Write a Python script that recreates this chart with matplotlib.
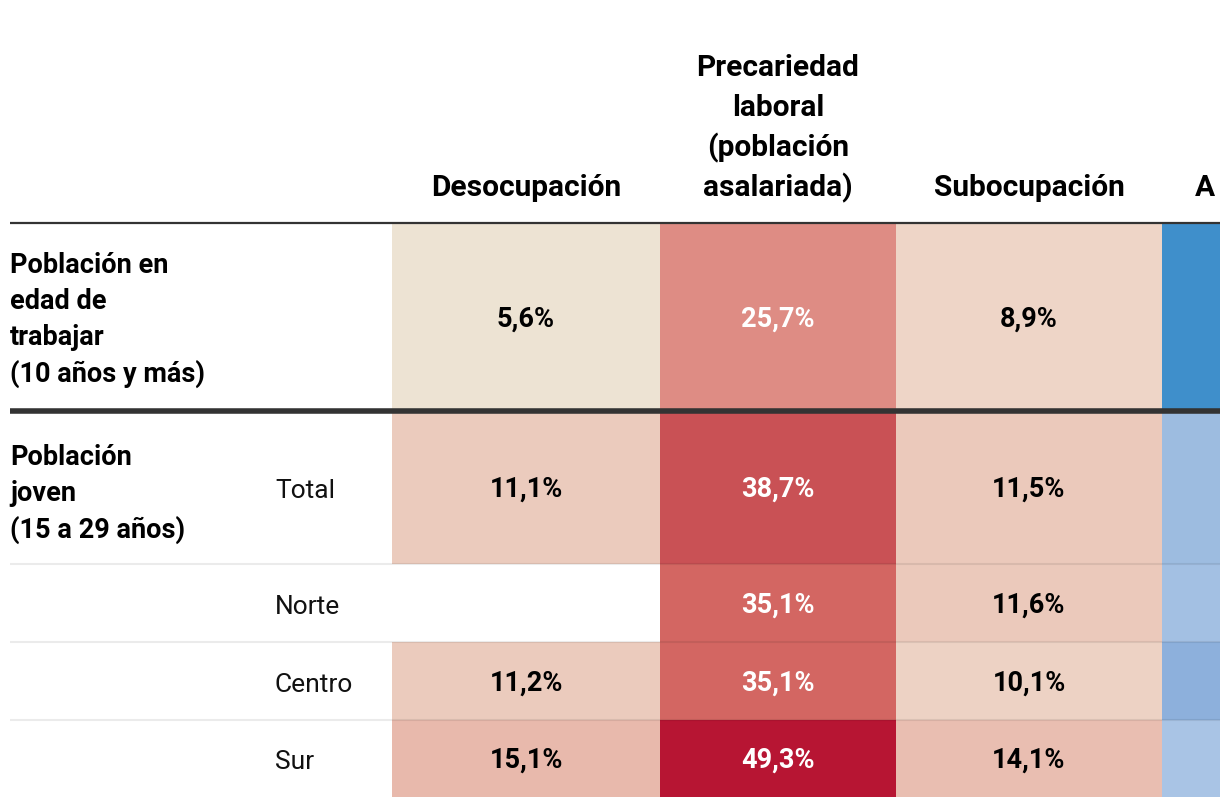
import numpy as np
import matplotlib
matplotlib.use("Agg")
import matplotlib.pyplot as plt
from matplotlib.colors import LinearSegmentedColormap

# ---------------- data ----------------
columns = ["Desocupación", "Precariedad\nlaboral\n(población\nasalariada)", "Subocupación", "A"]
row_groups = ["Población en\nedad de\ntrabajar\n(10 años y más)", "Población\njoven\n(15 a 29 años)", "", "", ""]
row_sub = ["", "Total", "Norte", "Centro", "Sur"]

desocupacion = [5.6, 11.1, np.nan, 11.2, 15.1]
precariedad = [25.7, 38.7, 35.1, 35.1, 49.3]
subocupacion = [8.9, 11.5, 11.6, 10.1, 14.1]
# fourth column is cut off in the picture; values estimated from shading only
cuarta = [48.0, 22.0, 20.5, 25.0, 19.0]

# ---------------- styles / layout ----------------
W, H = 1220, 808
fig = plt.figure(figsize=(W / 100, H / 100), dpi=100)
ax = fig.add_axes([0, 0, 1, 1])
ax.set_xlim(0, W)
ax.set_ylim(H, 0)
ax.axis("off")

FONT = ["Roboto", "DejaVu Sans"]

col_edges = [392, 660, 896, 1162, 1430]
row_edges = [224, 411, 564, 642, 720, 797]

red_nodes = [(5.6, "#EDE3D3"), (8.9, "#EED5C7"), (10.1, "#EDD2C4"), (11.3, "#EBCABC"),
             (14.6, "#E8BBAE"), (25.7, "#DE8C84"), (35.1, "#D36662"), (38.7, "#C95155"),
             (49.3, "#B71533")]
vmin, vmax = red_nodes[0][0], red_nodes[-1][0]
red_cmap = LinearSegmentedColormap.from_list(
    "reds", [((v - vmin) / (vmax - vmin), c) for v, c in red_nodes])
red_cmap.set_bad("white")

blue_nodes = [(19.0, "#A9C4E5"), (20.5, "#A3C0E3"), (22.0, "#9DBCE0"), (25.0, "#8DB0DC"),
              (48.0, "#3F8FCB")]
bmin, bmax = blue_nodes[0][0], blue_nodes[-1][0]
blue_cmap = LinearSegmentedColormap.from_list(
    "blues", [((v - bmin) / (bmax - bmin), c) for v, c in blue_nodes])

series = [desocupacion, precariedad, subocupacion]
for j, vals in enumerate(series):
    arr = np.ma.masked_invalid(np.array(vals, dtype=float)).reshape(-1, 1)
    ax.pcolormesh(col_edges[j:j + 2], row_edges, arr, cmap=red_cmap,
                  vmin=vmin, vmax=vmax, shading="flat")
ax.pcolormesh(col_edges[3:5], row_edges, np.array(cuarta).reshape(-1, 1),
              cmap=blue_cmap, vmin=bmin, vmax=bmax, shading="flat")

# value labels
for j, vals in enumerate(series):
    xc = (col_edges[j] + col_edges[j + 1]) / 2
    for i, v in enumerate(vals):
        if np.isnan(v):
            continue
        yc = (row_edges[i] + row_edges[i + 1]) / 2 - 1
        color = "white" if j == 1 else "black"
        ax.text(xc, yc, f"{v:.1f}".replace(".", ",") + "%", ha="center",
                va="center_baseline", fontsize=19.5, fontweight="bold",
                color=color, family=FONT)

# column headers (bottom aligned)
for j, name in enumerate(columns):
    lines = name.split("\n")
    xc = (col_edges[j] + col_edges[j + 1]) / 2
    for k, line in enumerate(lines):
        yb = 196 - 40 * (len(lines) - 1 - k)
        if j == 3:
            ax.text(1195, yb, line, ha="left", va="baseline", fontsize=21.5,
                    fontweight="bold", family=FONT)
        else:
            ax.text(xc, yb, line, ha="center", va="baseline", fontsize=21.5,
                    fontweight="bold", family=FONT)

# row labels
for i, (grp, sub) in enumerate(zip(row_groups, row_sub)):
    yc = (row_edges[i] + row_edges[i + 1]) / 2
    if grp:
        lines = grp.split("\n")
        n = len(lines)
        yg = yc - 1 if i == 0 else yc + 3
        for k, line in enumerate(lines):
            y = yg + (k - (n - 1) / 2) * 36
            ax.text(10, y, line, ha="left", va="center_baseline", fontsize=19.5,
                    fontweight="bold", family=FONT)
    if sub:
        ax.text(275, yc + 1, sub, ha="left", va="center_baseline", fontsize=19,
                family=FONT, color="#111111")

# rules
ax.plot([10, W], [222.5, 222.5], color="#333333", lw=1.6, solid_capstyle="butt")
ax.plot([10, W], [row_edges[1], row_edges[1]], color="#333333", lw=4.0,
        solid_capstyle="butt")
for y in row_edges[2:5]:
    ax.plot([10, W], [y, y], color="black", alpha=0.08, lw=1.5, solid_capstyle="butt")

fig.savefig("out.png", dpi=100)
